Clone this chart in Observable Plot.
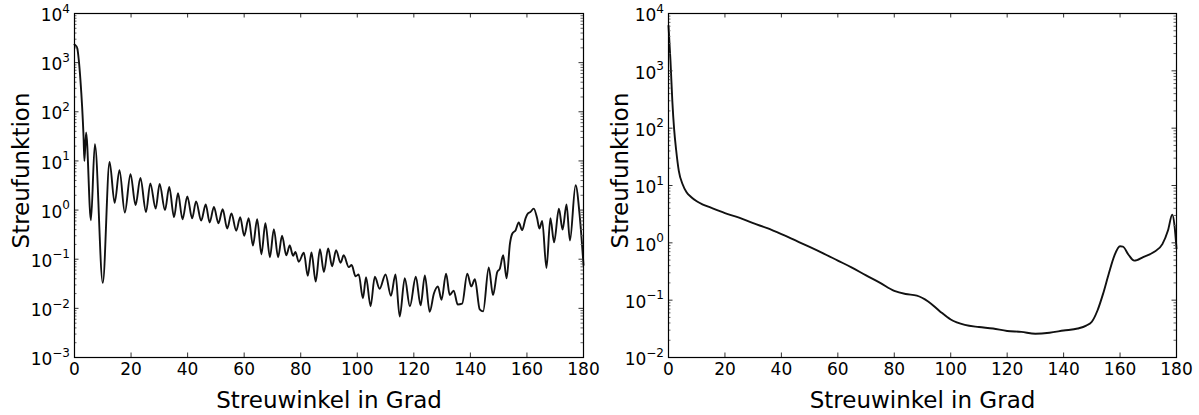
<!DOCTYPE html>
<html><head><meta charset="utf-8">
<script src="https://cdn.jsdelivr.net/npm/d3@7"></script>
<script src="https://cdn.jsdelivr.net/npm/@observablehq/plot@0.6"></script>
<style>
html,body{margin:0;padding:0;background:#fff;}
#wrap{display:flex;width:1199px;height:415px;background:#fff;}
#wrap svg{display:block;}
</style></head><body><div id="wrap"></div>
<script>
// ---- data ----
const xTicks = [0, 20, 40, 60, 80, 100, 120, 140, 160, 180];
const xLabel = "Streuwinkel in Grad";
const yLabel = "Streufunktion";
const leftExponents = [-3, -2, -1, 0, 1, 2, 3, 4];
const rightExponents = [-2, -1, 0, 1, 2, 3, 4];

const leftAngles = [0, 0.5, 1.0, 1.5, 2.1, 2.7, 3.2, 3.5, 4.1, 5.8, 7.2, 10.0, 12.4, 14.2, 15.9, 17.8, 19.8, 21.6, 23.3, 25.3, 26.8, 28.7, 30.1, 32.0, 33.5, 35.2, 36.6, 38.2, 39.9, 41.6, 43.0, 44.8, 46.4, 47.8, 49.3, 50.9, 52.4, 54.0, 55.5, 57.2, 58.6, 60.0, 61.6, 63.1, 64.6, 66.1, 67.5, 69.1, 70.5, 72.0, 73.4, 74.9, 76.1, 77.3, 78.1, 79.3, 81.1, 82.5, 83.8, 85.3, 86.8, 88.2, 89.7, 91.1, 92.5, 94.1, 95.2, 97.0, 98.0, 99.4, 100.5, 102.0, 103.1, 104.7, 106.2, 107.9, 110.0, 111.9, 113.5, 115.0, 116.8, 118.6, 120.7, 122.4, 123.9, 125.6, 127.1, 128.5, 129.8, 131.4, 132.7, 134.1, 135.5, 137.1, 138.9, 140.3, 141.6, 143.3, 144.5, 146.5, 148.0, 149.5, 150.4, 151.6, 152.8, 154.0, 154.8, 156.0, 157.1, 158.3, 159.5, 160.3, 161.2, 162.4, 163.6, 164.4, 165.4, 166.9, 168.3, 169.6, 171.3, 172.6, 174.0, 175.2, 177.2, 178.7, 180];
const leftValues = [2340, 2200, 1950, 1150, 440, 126, 31, 10, 38, 0.62, 22, 0.033, 9.5, 1.4, 6.5, 0.89, 5.4, 1.26, 4.5, 0.91, 3.5, 1.07, 3.4, 1.0, 2.95, 0.72, 2.2, 0.65, 1.9, 0.68, 1.5, 0.61, 1.3, 0.56, 1.16, 0.54, 1.04, 0.42, 0.85, 0.38, 0.72, 0.30, 0.68, 0.19, 0.65, 0.126, 0.54, 0.11, 0.41, 0.11, 0.30, 0.12, 0.19, 0.117, 0.14, 0.089, 0.135, 0.046, 0.137, 0.035, 0.16, 0.055, 0.165, 0.072, 0.152, 0.085, 0.12, 0.069, 0.076, 0.045, 0.049, 0.016, 0.043, 0.011, 0.044, 0.025, 0.049, 0.018, 0.049, 0.0068, 0.041, 0.011, 0.044, 0.0115, 0.047, 0.0085, 0.02, 0.028, 0.015, 0.051, 0.0186, 0.023, 0.012, 0.0125, 0.051, 0.028, 0.039, 0.0095, 0.0087, 0.068, 0.0186, 0.055, 0.064, 0.12, 0.041, 0.21, 0.33, 0.39, 0.56, 0.39, 0.68, 0.85, 0.91, 1.07, 0.68, 0.42, 0.6, 0.066, 0.68, 0.22, 1.07, 0.40, 1.3, 0.24, 3.2, 0.72, 0.076];

const rightAngles = [0, 0.7, 1.35, 2.0, 2.7, 3.65, 5, 6.4, 8, 10, 12, 15, 20, 25, 30, 35, 40, 45, 50, 55, 60, 65, 70, 75, 80, 84, 88, 92, 96, 100, 105, 110, 115, 120, 125, 130, 135, 140, 145, 148, 150, 152, 154, 156, 158, 160, 161, 163, 165, 166, 168, 172, 175, 177, 178.5, 179.3, 180];
const rightValues = [6100, 1500, 300, 95, 42, 18, 10.5, 7.6, 6.3, 5.3, 4.7, 4.1, 3.3, 2.75, 2.2, 1.8, 1.42, 1.1, 0.85, 0.65, 0.49, 0.37, 0.27, 0.2, 0.145, 0.128, 0.12, 0.095, 0.065, 0.046, 0.037, 0.034, 0.032, 0.029, 0.028, 0.026, 0.027, 0.0295, 0.032, 0.036, 0.042, 0.066, 0.13, 0.29, 0.6, 0.87, 0.86, 0.62, 0.49, 0.5, 0.56, 0.69, 0.95, 1.66, 3.1, 2.0, 0.8];

// ---- drawing ----
const SVGNS = "http://www.w3.org/2000/svg";
const H = 415, MT = 13, MB = 58;

function panel({width, marginLeft, marginRight, angles, values, exps, yLabelDx}) {
  const data = angles.map((a, i) => ({a, v: values[i]}));
  const majors = exps.map(e => Math.pow(10, e));
  const minors = [];
  exps.slice(0, -1).forEach(e => { for (let k = 2; k <= 9; k++) minors.push(k * Math.pow(10, e)); });
  const fw = width - marginLeft - marginRight;
  const fh = H - MT - MB;
  const plot = Plot.plot({
    width, height: H, marginLeft, marginRight, marginTop: MT, marginBottom: MB,
    style: {fontFamily: "'DejaVu Sans', sans-serif", fontSize: "17px", color: "#000", background: "#fff", overflow: "visible"},
    x: {domain: [0, 180]},
    y: {type: "log", domain: [majors[0], majors[majors.length - 1]]},
    marks: [
      Plot.line(data, {x: "a", y: "v", stroke: "#111", strokeWidth: 1.9, curve: "monotone-x"}),
      Plot.tickX(xTicks, {x: d => d, insetTop: fh - 4.5, stroke: "#333"}),
      Plot.tickX(xTicks, {x: d => d, insetBottom: fh - 4.5, stroke: "#333"}),
      Plot.tickY(majors, {y: d => d, insetRight: fw - 4.5, stroke: "#333"}),
      Plot.tickY(majors, {y: d => d, insetLeft: fw - 4.5, stroke: "#333"}),
      Plot.tickY(minors, {y: d => d, insetRight: fw - 2.5, stroke: "#666"}),
      Plot.tickY(minors, {y: d => d, insetLeft: fw - 2.5, stroke: "#666"}),
      Plot.frame({stroke: "#000", strokeWidth: 1.2}),
      Plot.axisX({ticks: xTicks, tickSize: 0, tickPadding: 5.4, label: null, fontSize: 17, tickFormat: d => String(d)}),
      Plot.axisY({ticks: majors, tickSize: 0, tickPadding: 4.5, label: null, fontSize: 17, tickFormat: d => "10^" + Math.round(Math.log10(d))}),
      Plot.text([xLabel], {frameAnchor: "bottom", dy: 50, lineAnchor: "bottom", textAnchor: "middle", fontSize: 23, text: d => d, fill: "#000"}),
      Plot.text([yLabel], {frameAnchor: "left", dx: yLabelDx, dy: -15, rotate: -90, lineAnchor: "bottom", textAnchor: "middle", fontSize: 23, text: d => d, fill: "#000"})
    ]
  });
  // superscript exponents for the log tick labels
  d3.select(plot).selectAll('g[aria-label="y-axis tick label"] text').each(function () {
    const m = (this.textContent || "").match(/^10\^(-?\d+)$/);
    if (!m) return;
    this.textContent = "10";
    this.setAttribute("y", "7.7");
    const t = document.createElementNS(SVGNS, "tspan");
    t.setAttribute("dy", "-8.5");
    t.setAttribute("font-size", "12px");
    t.textContent = m[1].replace("-", "\u2212");
    this.appendChild(t);
  });
  return plot;
}

const wrap = document.getElementById("wrap");
wrap.appendChild(panel({width: 600, marginLeft: 74, marginRight: 17, angles: leftAngles, values: leftValues, exps: leftExponents, yLabelDx: -45.5}));
wrap.appendChild(panel({width: 599, marginLeft: 68, marginRight: 23, angles: rightAngles, values: rightValues, exps: rightExponents, yLabelDx: -40.5}));
</script>
</body></html>
